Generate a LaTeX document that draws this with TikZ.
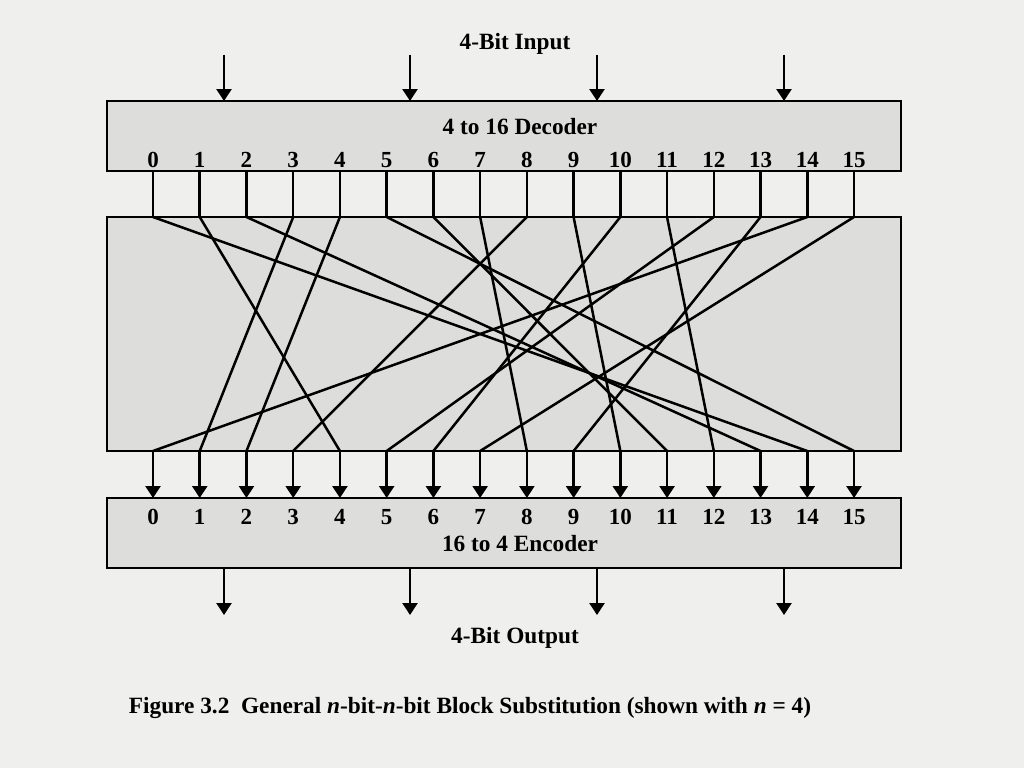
\documentclass[tikz,border=0pt]{standalone}
\usepackage{fontspec}
\setmainfont{Liberation Serif}
\usetikzlibrary{arrows.meta}
\definecolor{paper}{HTML}{EFEFEE}
\definecolor{boxfill}{HTML}{DDDDDB}
\begin{document}
\begin{tikzpicture}[x=1pt,y=-1pt,
  box/.style={draw=black,line width=2.6pt,fill=boxfill},
  wire/.style={line width=2.5pt,line cap=round},
  arr/.style={line width=2.5pt,-{Triangle[width=15pt,length=12pt]}},
  lbl/.style={font=\fontsize{23.3}{25}\selectfont\bfseries,inner sep=0pt,anchor=base},
  num/.style={font=\fontsize{23}{25}\selectfont\bfseries,inner sep=0pt,anchor=base}]
\fill[paper] (0,0) rectangle (1024,768);
\useasboundingbox (0,0) rectangle (1024,768);
% boxes
\draw[box] (107,101) rectangle (901,171);
\draw[box] (107,217) rectangle (901,451);
\draw[box] (107,498) rectangle (901,568);
% labels
\node[lbl] (inlbl) at (515,49) {4-Bit Input};
\node[lbl] (declbl) at (520,134) {4 to 16 Decoder};
\node[lbl] (enclbl) at (520,551) {16 to 4 Encoder};
\node[lbl] (outlbl) at (515,643) {4-Bit Output};
\node[lbl] (cap) at (470,713) {Figure 3.2\ \ General \textit{n}-bit-\textit{n}-bit Block Substitution (shown with \textit{n} = 4)};
% input / output arrows
\foreach \x [count=\k] in {224,410,597,784} {
  \coordinate (ia\k) at (\x,55);
  \coordinate (ib\k) at (\x,101);
  \coordinate (oa\k) at (\x,568);
  \coordinate (ob\k) at (\x,615);
  \draw[arr] (ia\k) -- (ib\k);
  \draw[arr] (oa\k) -- (ob\k);
}
% columns
\foreach \i in {0,...,15} {
  \pgfmathsetmacro{\xx}{153+\i*46.733}
  \node[num] (d\i) at (\xx,167) {\i};
  \node[num] (e\i) at (\xx,524) {\i};
  \coordinate (dt\i) at (\xx,171);
  \coordinate (mt\i) at (\xx,217);
  \coordinate (mb\i) at (\xx,451);
  \coordinate (et\i) at (\xx,498);
  \draw[wire,line cap=butt] (dt\i) -- (mt\i);
  \draw[arr] (mb\i) -- (et\i);
}
% permutation
\foreach \a/\b in {0/14,1/4,2/13,3/1,4/2,5/15,6/11,7/8,8/3,9/10,10/6,11/12,12/5,13/9,14/0,15/7} {
  \draw[wire] (mt\a) -- (mb\b);
}
\end{tikzpicture}
\end{document}
